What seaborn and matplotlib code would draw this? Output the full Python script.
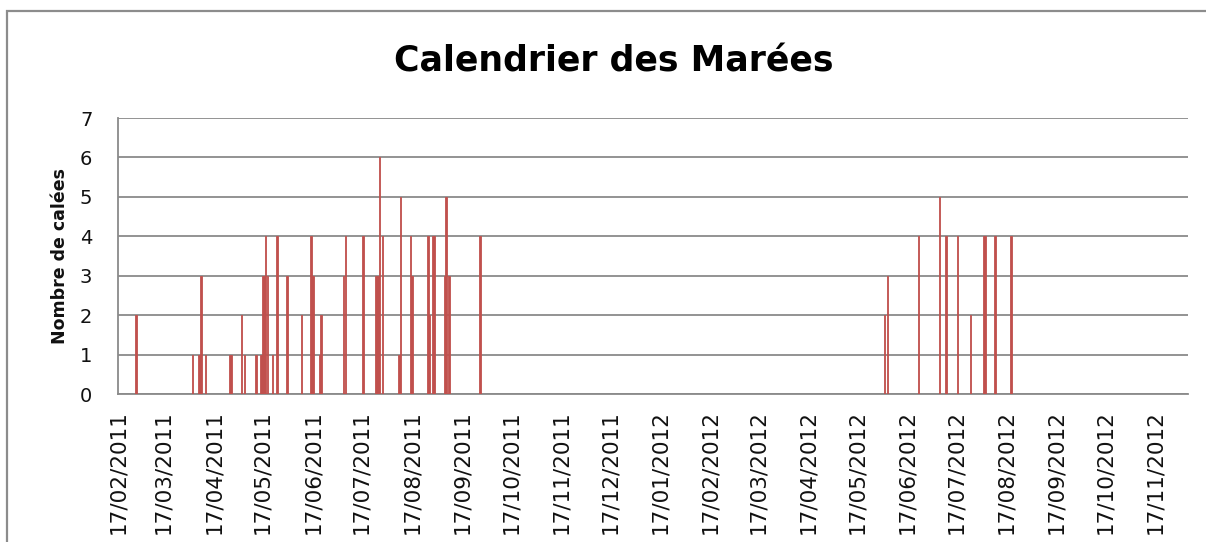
import datetime as dt
import matplotlib
matplotlib.use("Agg")
import matplotlib.pyplot as plt
import matplotlib.dates as mdates
from matplotlib.patches import Rectangle
import seaborn as sns

# ---- data ----
dates = [
    "2011-02-28", "2011-04-04", "2011-04-08", "2011-04-09", "2011-04-12",
    "2011-04-27", "2011-04-28", "2011-05-04", "2011-05-06", "2011-05-13",
    "2011-05-16", "2011-05-17", "2011-05-18", "2011-05-19", "2011-05-20",
    "2011-05-23", "2011-05-26", "2011-06-01", "2011-06-10", "2011-06-16",
    "2011-06-17", "2011-06-21", "2011-06-22", "2011-07-06", "2011-07-07",
    "2011-07-18", "2011-07-26", "2011-07-27", "2011-07-28", "2011-07-30",
    "2011-08-09", "2011-08-10", "2011-08-16", "2011-08-17", "2011-08-27",
    "2011-08-28", "2011-08-30", "2011-08-31", "2011-09-06", "2011-09-07",
    "2011-09-09", "2011-09-28",
    "2012-06-03", "2012-06-05", "2012-06-24", "2012-07-07", "2012-07-11",
    "2012-07-18", "2012-07-26", "2012-08-03", "2012-08-04", "2012-08-10",
    "2012-08-20",
]
calees = [
    2, 1, 1, 3, 1,
    1, 1, 2, 1, 1,
    1, 3, 3, 4, 3,
    1, 4, 3, 2, 4,
    3, 1, 2, 3, 4,
    4, 3, 3, 6, 4,
    1, 5, 4, 3, 4,
    2, 4, 4, 3, 5,
    3, 4,
    2, 3, 4, 5, 4,
    4, 2, 4, 4, 4,
    4,
]
title = "Calendrier des Marées"
ylabel = "Nombre de calées"
x_start = "2011-02-17"
x_end = "2012-12-07"
y_ticks = [0, 1, 2, 3, 4, 5, 6, 7]

# ---- figure ----
sns.set_style("white")
plt.rcParams["font.family"] = ["DejaVu Sans"]

W, H = 1206, 542
fig = plt.figure(figsize=(W / 100, H / 100), dpi=100)
ax = fig.add_axes([118 / W, 1 - 394 / H, (1188 - 118) / W, (394 - 118) / H])

bar_c = "#C0504D"
xnum = [mdates.date2num(dt.datetime.strptime(d, "%Y-%m-%d")) for d in dates]
sns.barplot(x=xnum, y=calees, native_scale=True, color=bar_c,
            saturation=1, errorbar=None, width=0.9, ax=ax,
            edgecolor=bar_c, linewidth=0.6, zorder=3)

ax.set_xlim(mdates.date2num(dt.datetime.strptime(x_start, "%Y-%m-%d")),
            mdates.date2num(dt.datetime.strptime(x_end, "%Y-%m-%d")))
ax.set_ylim(0, 7)
ax.set_yticks(y_ticks)
ax.xaxis.set_major_locator(mdates.MonthLocator(bymonthday=17))
ax.xaxis.set_major_formatter(mdates.DateFormatter("%d/%m/%Y"))
for lbl in ax.get_xticklabels():
    lbl.set_rotation(90)

grid_c = "#8a8a8a"
ax.yaxis.grid(True, color=grid_c, linewidth=1.3, zorder=0)
ax.xaxis.grid(False)
ax.set_axisbelow(True)
for s in ["top", "right"]:
    ax.spines[s].set_visible(False)
for s in ["left", "bottom"]:
    ax.spines[s].set_color(grid_c)
    ax.spines[s].set_linewidth(1.3)

ax.tick_params(axis="x", direction="inout", length=11.5, width=1.1,
               color=grid_c, labelsize=15.5, pad=6, labelcolor="#111111")
ax.tick_params(axis="y", length=0, labelsize=14, pad=18.5, labelcolor="#111111")
ax.set_xlabel("")
ax.set_ylabel("")

fig.text(60 / W, 1 - 256 / H, ylabel, rotation=90, ha="center", va="center",
         fontsize=12.5, fontweight="bold", color="#111111")
fig.text(614 / W, 1 - 62 / H, title, ha="center", va="center",
         fontsize=25, fontweight="bold", color="#000000")

# chart frame (cut by the figure edges)
fig.patches.append(Rectangle((7 / W, -0.1), 1.2, 1.1 - 11 / H,
                             transform=fig.transFigure, fill=False,
                             edgecolor="#8c8c8c", linewidth=1.6, zorder=0))

fig.savefig("out.png", dpi=100)
